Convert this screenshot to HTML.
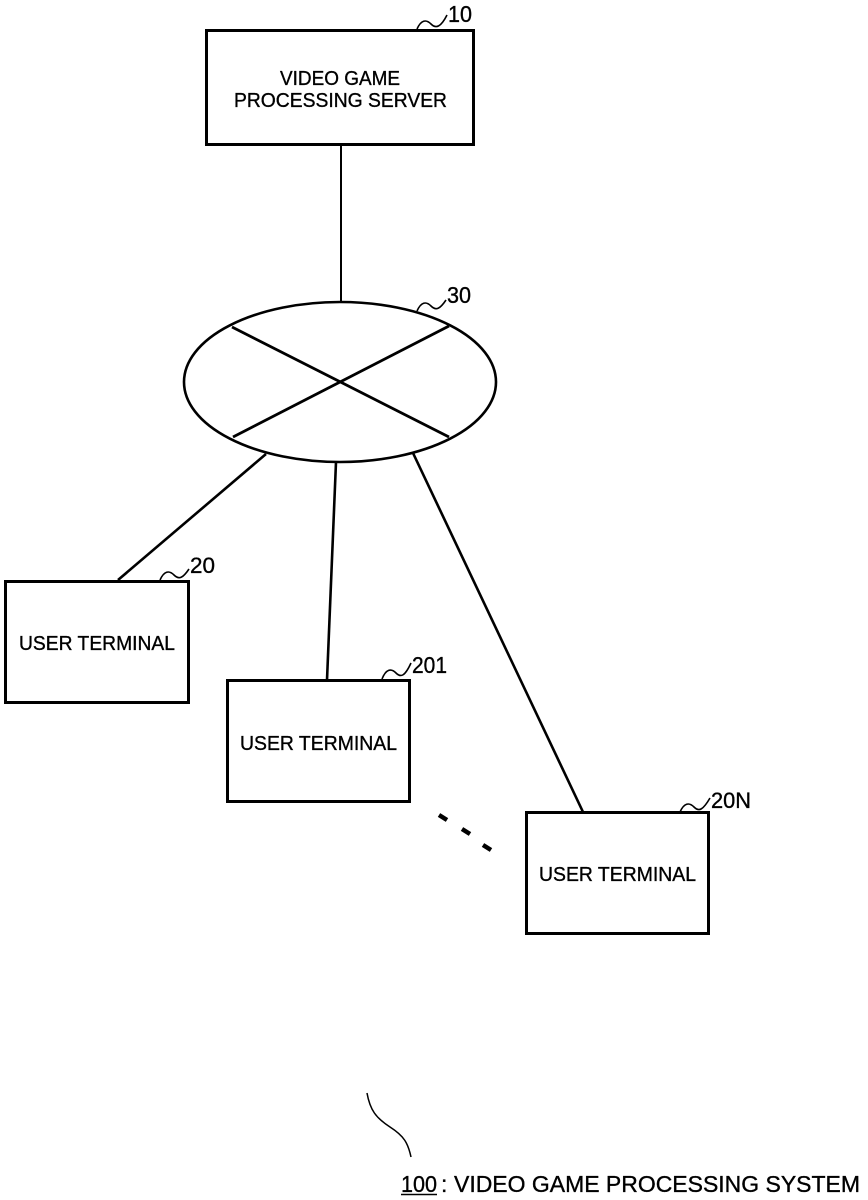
<!DOCTYPE html>
<html>
<head>
<meta charset="utf-8">
<style>
html,body{margin:0;padding:0;background:#fff;}
svg{display:block;}
text{font-family:"Liberation Sans",sans-serif;fill:#000;stroke:#000;stroke-width:0.35;}
</style>
</head>
<body>
<svg width="868" height="1200" viewBox="0 0 868 1200" xmlns="http://www.w3.org/2000/svg">
  <rect x="0" y="0" width="868" height="1200" fill="#fff"/>
  <g fill="none" stroke="#000" stroke-linecap="butt">
    <!-- server box -->
    <rect x="206.5" y="30.5" width="267" height="114" stroke-width="3"/>
    <!-- server to network -->
    <line x1="341" y1="145" x2="341" y2="302" stroke-width="2"/>
    <!-- network ellipse -->
    <ellipse cx="340" cy="382" rx="156" ry="80" stroke-width="2.6"/>
    <line x1="232" y1="327" x2="449" y2="437" stroke-width="2.8"/>
    <line x1="449" y1="326" x2="233" y2="437" stroke-width="2.8"/>
    <!-- connectors to terminals -->
    <line x1="266" y1="454" x2="118" y2="580" stroke-width="2.6"/>
    <line x1="336" y1="462" x2="327" y2="680" stroke-width="2.6"/>
    <line x1="413" y1="453" x2="583" y2="812" stroke-width="2.6"/>
    <!-- terminal boxes -->
    <rect x="5.5" y="581.5" width="183" height="121" stroke-width="3"/>
    <rect x="227.5" y="680.5" width="182" height="121" stroke-width="3"/>
    <rect x="526.5" y="812.5" width="182" height="121" stroke-width="3"/>
    <!-- dots -->
    <line x1="439" y1="815" x2="447" y2="820" stroke-width="4.5"/>
    <line x1="462" y1="829" x2="470" y2="834" stroke-width="4.5"/>
    <line x1="483" y1="845" x2="491" y2="850" stroke-width="4.5"/>
    <!-- leader tildes -->
    <path d="M417 29 C421 20, 426 19, 431 24 S441 27, 447 15" stroke-width="1.6"/>
    <path d="M417 311 C421 302, 426 301, 431 306 S440 309, 446 300" stroke-width="1.6"/>
    <path d="M160 580 C164 571, 169 570, 174 575 S183 578, 189 569" stroke-width="1.6"/>
    <path d="M382 679 C386 669, 391 668, 396 673 S405 676, 411 663" stroke-width="1.6"/>
    <path d="M680 812 C684 803, 689 802, 694 807 S703 810, 710 798" stroke-width="1.6"/>
    <!-- bottom leader -->
    <path d="M367 1093 C370 1110, 376 1118, 390 1127 S408 1143, 411 1157" stroke-width="1.5"/>
  </g>

  <!-- server text -->
  <text x="280" y="85" font-size="20.5" textLength="120" lengthAdjust="spacingAndGlyphs">VIDEO GAME</text>
  <text x="234" y="107" font-size="20.5" textLength="213" lengthAdjust="spacingAndGlyphs">PROCESSING SERVER</text>

  <!-- terminal text -->
  <text x="19" y="650" font-size="20.5" textLength="156" lengthAdjust="spacingAndGlyphs">USER TERMINAL</text>
  <text x="240" y="750" font-size="20.5" textLength="157" lengthAdjust="spacingAndGlyphs">USER TERMINAL</text>
  <text x="539" y="881" font-size="20.5" textLength="157" lengthAdjust="spacingAndGlyphs">USER TERMINAL</text>

  <!-- reference labels -->
  <text x="448" y="22" font-size="23" textLength="24" lengthAdjust="spacingAndGlyphs">10</text>
  <text x="447" y="303" font-size="23" textLength="24" lengthAdjust="spacingAndGlyphs">30</text>
  <text x="190" y="573" font-size="22" textLength="25" lengthAdjust="spacingAndGlyphs">20</text>
  <text x="412" y="673" font-size="23" textLength="35" lengthAdjust="spacingAndGlyphs">201</text>
  <text x="711" y="808" font-size="22" textLength="40" lengthAdjust="spacingAndGlyphs">20N</text>

  <!-- bottom caption -->
  <text x="401" y="1192" font-size="23" textLength="36" lengthAdjust="spacingAndGlyphs">100</text>
  <line x1="401" y1="1194.5" x2="437" y2="1194.5" stroke="#000" stroke-width="1.6"/>
  <text x="441" y="1192" font-size="23">:</text>
  <text x="454" y="1192" font-size="23" textLength="406" lengthAdjust="spacingAndGlyphs">VIDEO GAME PROCESSING SYSTEM</text>
</svg>
</body>
</html>
